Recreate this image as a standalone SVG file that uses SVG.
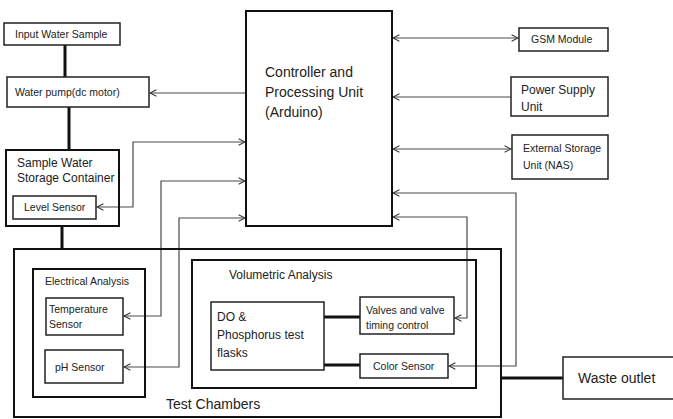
<svg xmlns="http://www.w3.org/2000/svg" width="673" height="419" viewBox="0 0 673 419">
<style>
.box{fill:#fff;stroke:#222;stroke-width:1.5}
.bold{fill:none;stroke:#111;stroke-width:2}
.thick{fill:none;stroke:#111;stroke-width:3}
.con{fill:none;stroke:#4a4a4a;stroke-width:1.2}
text{font-family:"Liberation Sans",Arial,sans-serif;fill:#222}
.s{font-size:10.5px}
.m{font-size:12px}
.l{font-size:14px}
</style>
<defs>
<marker id="ah" viewBox="0 0 10 10" refX="9" refY="5" markerWidth="8" markerHeight="8" markerUnits="userSpaceOnUse" orient="auto-start-reverse">
<path d="M1,1 L9,5 L1,9" fill="none" stroke="#333" stroke-width="1.3"/>
</marker>
</defs>
<rect width="673" height="419" fill="#fff"/>
<g id="connectors">
<line class="thick" x1="65" y1="45" x2="65" y2="77"/>
<line class="thick" x1="69" y1="107" x2="69" y2="150"/>
<line class="thick" x1="62" y1="226" x2="62" y2="249"/>
<line class="thick" x1="324" y1="317" x2="360" y2="317"/>
<line class="thick" x1="324" y1="365" x2="360" y2="365"/>
<line class="thick" x1="501" y1="378" x2="563" y2="378"/>
<path class="con" d="M246,93 H150" marker-end="url(#ah)"/>
<path class="con" d="M97,207 H133 V142 H245" marker-start="url(#ah)" marker-end="url(#ah)"/>
<path class="con" d="M124,316 H161 V181 H245" marker-start="url(#ah)" marker-end="url(#ah)"/>
<path class="con" d="M124,367 H179 V218 H245" marker-start="url(#ah)" marker-end="url(#ah)"/>
<path class="con" d="M393,38 H518" marker-start="url(#ah)" marker-end="url(#ah)"/>
<path class="con" d="M511,97 H393" marker-end="url(#ah)"/>
<path class="con" d="M393,149 H511" marker-start="url(#ah)" marker-end="url(#ah)"/>
<path class="con" d="M449,366 H516 V193 H393" marker-start="url(#ah)" marker-end="url(#ah)"/>
<path class="con" d="M455,318 H467 V217 H393" marker-start="url(#ah)" marker-end="url(#ah)"/>
</g>
<g id="input-water-sample">
<rect class="box" x="4" y="23" width="116" height="22"/>
<text class="s" x="15" y="38">Input Water Sample</text>
</g>
<g id="water-pump">
<rect class="box" x="7" y="77" width="142" height="30"/>
<text class="s" x="15" y="96">Water pump(dc motor)</text>
</g>
<g id="storage-container">
<rect class="bold" x="6" y="150" width="113" height="76"/>
<text class="m" x="17" y="167">Sample Water</text>
<text class="m" x="17" y="182">Storage Container</text>
</g>
<g id="level-sensor">
<rect class="box" x="13" y="196" width="83" height="23"/>
<text class="s" x="24" y="211">Level Sensor</text>
</g>
<g id="controller">
<rect class="bold" x="246" y="11" width="146" height="215"/>
<text class="l" x="265" y="77">Controller and</text>
<text class="l" x="265" y="97">Processing Unit</text>
<text class="l" x="265" y="117">(Arduino)</text>
</g>
<g id="gsm-module">
<rect class="box" x="519" y="28" width="89" height="23"/>
<text class="s" x="531" y="43">GSM Module</text>
</g>
<g id="power-supply">
<rect class="box" x="511" y="77" width="97" height="39"/>
<text class="m" x="521" y="94">Power Supply</text>
<text class="m" x="521" y="111">Unit</text>
</g>
<g id="external-storage">
<rect class="box" x="512" y="135" width="96" height="44"/>
<text class="s" x="523" y="152">External Storage</text>
<text class="s" x="523" y="169">Unit (NAS)</text>
</g>
<g id="test-chambers">
<rect class="bold" x="14" y="249" width="487" height="168"/>
<text class="l" x="166" y="409">Test Chambers</text>
</g>
<g id="electrical-analysis">
<rect class="bold" x="33" y="269" width="112" height="128"/>
<text class="s" x="45" y="285">Electrical Analysis</text>
</g>
<g id="temperature-sensor">
<rect class="box" x="46" y="298" width="77" height="37"/>
<text class="s" x="49" y="313">Temperature</text>
<text class="s" x="49" y="328">Sensor</text>
</g>
<g id="ph-sensor">
<rect class="box" x="45" y="350" width="78" height="33"/>
<text class="s" x="55" y="371">pH Sensor</text>
</g>
<g id="volumetric-analysis">
<rect class="bold" x="192" y="260" width="284" height="128"/>
<text class="m" x="229" y="279">Volumetric Analysis</text>
</g>
<g id="do-flasks">
<rect class="box" x="211" y="302" width="113" height="68"/>
<text class="m" x="217" y="321">DO &amp;</text>
<text class="m" x="217" y="339">Phosphorus test</text>
<text class="m" x="217" y="357">flasks</text>
</g>
<g id="valves">
<rect class="box" x="360" y="297" width="94" height="37"/>
<text class="s" x="366" y="314">Valves and valve</text>
<text class="s" x="366" y="329">timing control</text>
</g>
<g id="color-sensor">
<rect class="box" x="360" y="354" width="88" height="24"/>
<text class="s" x="373" y="370">Color Sensor</text>
</g>
<g id="waste-outlet">
<rect class="box" x="563" y="357" width="120" height="42"/>
<text class="l" x="578" y="383">Waste outlet</text>
</g>
</svg>
